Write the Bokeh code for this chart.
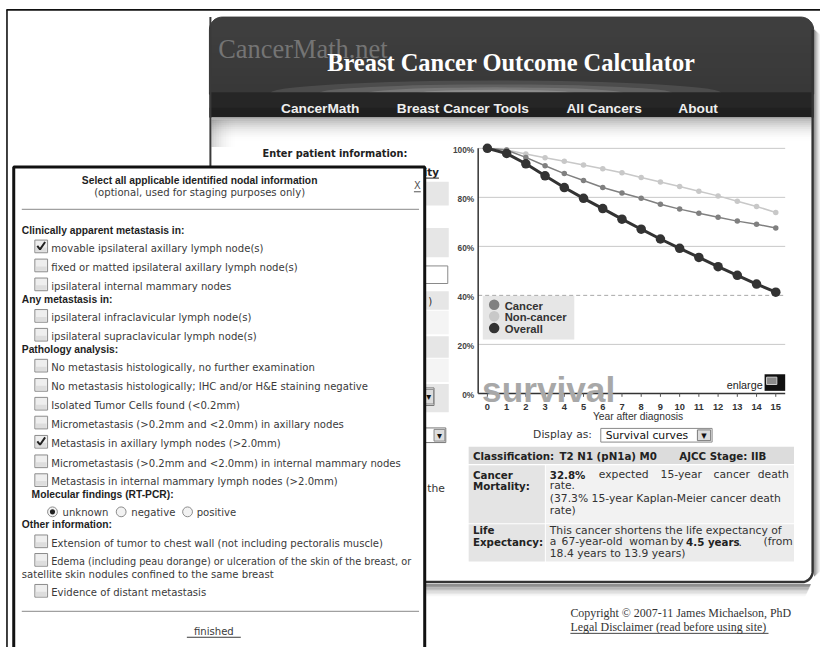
import numpy as np
from bokeh.plotting import figure
from bokeh.models import Range1d
from bokeh.core.properties import value
from bokeh.embed import file_html
from bokeh.resources import INLINE

# ---------------- data ----------------
years = list(range(16))
surv_overall = [100, 97.9, 93.7, 88.8, 84.0, 79.6, 75.4, 71.1, 67.0, 63.0, 59.2, 55.5, 51.7, 48.2, 44.6, 41.3]
surv_cancer = [100, 99.3, 96.3, 92.9, 89.7, 86.9, 84.0, 81.8, 79.6, 77.2, 75.2, 73.5, 71.9, 70.3, 69.0, 67.5]
surv_noncancer = [100, 99.3, 97.7, 96.2, 94.7, 93.2, 91.7, 90.0, 88.1, 86.3, 84.4, 82.5, 80.6, 78.4, 76.3, 73.8]
pct_ticks = [0, 20, 40, 60, 80, 100]
pct_labels = ["0%", "20%", "40%", "60%", "80%", "100%"]
year_labels = [str(y) for y in years]
legend_labels = ["Cancer", "Non-cancer", "Overall"]
series_colors = ["#808080", "#c8c8c8", "#333333"]

nav_items = ["CancerMath", "Breast Cancer Tools", "All Cancers", "About"]
clin_items = ["movable ipsilateral axillary lymph node(s)",
              "fixed or matted ipsilateral axillary lymph node(s)",
              "ipsilateral internal mammary nodes"]
clin_checked = [True, False, False]
any_items = ["ipsilateral infraclavicular lymph node(s)",
             "ipsilateral supraclavicular lymph node(s)"]
path_items = ["No metastasis histologically, no further examination",
              "No metastasis histologically; IHC and/or H&E staining negative",
              "Isolated Tumor Cells found (<0.2mm)",
              "Micrometastasis (>0.2mm and <2.0mm) in axillary nodes",
              "Metastasis in axillary lymph nodes (>2.0mm)",
              "Micrometastasis (>0.2mm and <2.0mm) in internal mammary nodes",
              "Metastasis in internal mammary lymph nodes (>2.0mm)"]
path_checked = [False, False, False, False, True, False, False]
radio_labels = ["unknown", "negative", "positive"]
other_items = ["Extension of tumor to chest wall (not including pectoralis muscle)",
               "Edema (including peau dorange) or ulceration of the skin of the breast, or",
               "Evidence of distant metastasis"]

# ---------------- figure ----------------
W, H = 820, 647
RW, RH = 836, 663          # page coordinate system of the whole picture
K = (W / RW + H / RH) / 2  # pixel scale of that system
p = figure(width=W, height=H, x_range=Range1d(0, RW), y_range=Range1d(RH, 0),
           output_backend="svg", toolbar_location=None, min_border=0,
           x_axis_location=None, y_axis_location=None, title=None)
p.xgrid.visible = False
p.ygrid.visible = False
p.outline_line_color = None
p.background_fill_color = "white"
p.border_fill_color = "white"

# chart scales (years / percent) mapped onto the chart area
X0, XS = 496.4, 19.6
Y0, YS = 402.6, 2.511
p.extra_x_ranges = {"yr": Range1d((0 - X0) / XS, (RW - X0) / XS)}
p.extra_y_ranges = {"pct": Range1d((Y0 - RH) / YS, (Y0 - 0) / YS)}
CH = dict(x_range_name="yr", y_range_name="pct")

SANS = "DejaVu Sans"
ARIAL = "Liberation Sans"
SERIF = "Liberation Serif"


def fs(size):
    return value(f"{size * K:.2f}px")


def quad(x0, y0, x1, y1, fill, line=None, lw=1, alpha=1.0):
    p.quad(left=[x0], right=[x1], top=[y0], bottom=[y1], fill_color=fill, fill_alpha=alpha,
           line_color=line, line_width=lw)


def txt(x, y, s, size, color="#333333", font=SANS, style="normal", align="left",
        baseline="middle", alpha=1.0, **kw):
    p.text(x=[x], y=[y], text=[s], text_font=value(font), text_font_size=fs(size),
           text_font_style=style, text_color=color, text_align=align, text_baseline=baseline,
           text_alpha=alpha, **kw)


def hline(x0, x1, y, color, lw=1, dash="solid", alpha=1.0):
    p.segment(x0=[x0], y0=[y], x1=[x1], y1=[y], line_color=color, line_width=lw,
              line_dash=dash, line_alpha=alpha)


def vline(x, y0, y1, color, lw=1, alpha=1.0):
    p.segment(x0=[x], y0=[y0], x1=[x], y1=[y1], line_color=color, line_width=lw, line_alpha=alpha)


# screenshot frame lines
hline(6, 836, 9.6, "#111111", 1.6)
vline(6.6, 9.6, 663, "#111111", 1.6)

# ---------------- main page panel ----------------
r = 13
xl, xr_, yt, yb = 213, 829, 17, 96
t1 = np.linspace(np.pi, 1.5 * np.pi, 12)
t2 = np.linspace(1.5 * np.pi, 2 * np.pi, 12)
hx = list(xl + r + r * np.cos(t1)) + list(xr_ - r + r * np.cos(t2)) + [xr_, xl]
hy = list(yt + r + r * np.sin(t1)) + list(yt + r + r * np.sin(t2)) + [yb, yb]
p.patch(hx, hy, fill_color="#3e3e3e", line_color="#3a3a3a", line_width=1)
for i in range(8):
    quad(214, 30 + i * 8, 828, 38 + i * 8, "#000000", alpha=0.012 * i)
for w, h, a in [(460, 26, 0.10), (360, 18, 0.12), (260, 12, 0.14), (160, 7, 0.16)]:
    p.ellipse(x=[505], y=[95], width=w, height=h, fill_color="#ffffff", fill_alpha=a, line_color=None)
quad(213, 94, 829, 120, "#262626")
quad(213, 110, 829, 120, "#1c1c1c", alpha=0.6)

txt(222, 50, "CancerMath.net", 27, color="#747474", font=SERIF, baseline="alphabetic")
txt(333, 64, "Breast Cancer Outcome Calculator", 25, color="#ffffff", font=SERIF, style="bold",
    baseline="alphabetic")
nav_x = [286, 404, 577, 691]
for s, x in zip(nav_items, nav_x):
    txt(x, 111, s, 14, color="#eeeeee", font=ARIAL, style="bold")

# panel body
quad(215, 120, 827, 596, "#ffffff")
for i in range(12):
    quad(215, 120 + i * 2, 827, 122 + i * 2, "#555555", alpha=0.45 * (1 - i / 12) ** 2)
for i in range(10):
    quad(215 + i * 2.5, 122, 217.5 + i * 2.5, 150, "#555555", alpha=0.25 * (1 - i / 10) ** 2)
vline(214, 17, 596, "#3a3a3a", 2)
rc = 11
tc = np.linspace(0, 0.5 * np.pi, 12)
bx = [828, 828] + list(828 - rc + rc * np.cos(tc)) + [214]
by = [30, 596 - rc] + list(596 - rc + rc * np.sin(tc)) + [596]
p.line(bx, by, line_color="#333333", line_width=2.5)
for i in range(12):
    hline(214, 826 - i * 0.5, 598.5 + i * 1.1, "#333333", 1.2, alpha=0.55 * (1 - i / 12) ** 1.5)
for i in range(6):
    vline(830 + i * 1.1, 30 + i, 590 - i, "#333333", 1.2, alpha=0.5 * (1 - i / 6) ** 1.5)

txt(341, 157, "Enter patient information:", 10, color="#222222", style="bold", align="center")

# form rows (mostly hidden behind the dialog)
for y0, y1, c in [(185.7, 210, "#e6e6e6"), (233, 263, "#e6e6e6"), (298, 317, "#e6e6e6"),
                  (318, 342, "#f4f4f4"), (344, 366, "#e6e6e6"), (367, 391, "#f4f4f4"),
                  (393, 422, "#e6e6e6")]:
    quad(220, y0, 457, y1, c)
quad(380, 272, 456, 290, "#ffffff", "#8a8a8a", 1)
txt(447, 176, "Mortality", 10.5, color="#222222", style="bold", align="right")
hline(380, 447, 182, "#222222", 1)
txt(436, 307.5, ")", 10.5, color="#333333")
quad(380, 397, 442, 415, "#ffffff", "#777777", 1)
quad(431.5, 398.5, 441.5, 413.5, "#dddddd", "#888888", 1)
txt(436.5, 406, "▾", 10, color="#111111", align="center")
quad(380, 438, 454, 453, "#ffffff", "#777777", 1)
quad(442, 439.5, 453, 451.5, "#dddddd", "#888888", 1)
txt(447.5, 445.5, "▾", 10, color="#111111", align="center")
txt(435, 500, "the", 11, color="#333333")

# ---------------- survival chart ----------------
xa0, xa1 = (487 - X0) / XS, (800 - X0) / XS
grid_ticks = [t for t in pct_ticks if t not in (0, 40)]
p.segment(x0=[xa0] * len(grid_ticks), y0=grid_ticks, x1=[xa1] * len(grid_ticks), y1=grid_ticks,
          line_color="#c8c8c8", line_width=1, **CH)
quad(491.7, 302.5, 585, 347.3, "#e6e6e6")
p.segment(x0=[xa0], y0=[40], x1=[xa1], y1=[40], line_color="#a8a8a8", line_width=1,
          line_dash="4 3", **CH)
p.segment(x0=[xa0], y0=[0], x1=[xa0], y1=[100], line_color="#333333", line_width=1.5, **CH)
p.segment(x0=[xa0], y0=[0], x1=[xa1], y1=[0], line_color="#333333", line_width=1.5, **CH)
p.segment(x0=years, y0=[0] * 16, x1=years, y1=[-1.4] * 16, line_color="#555555", line_width=1, **CH)
p.text(x=years, y=[0] * 16, text=year_labels, text_font=value(ARIAL), text_font_size=fs(9.5),
       text_font_style="bold", text_color="#333333", text_align="center", text_baseline="middle",
       y_offset=13.5, **CH)
p.text(x=[xa0] * 6, y=pct_ticks, text=pct_labels, text_font=value(ARIAL), text_font_size=fs(8.5),
       text_font_style="bold", text_color="#444444", text_align="right", text_baseline="middle",
       x_offset=-4, y_offset=2, **CH)
txt(650, 426, "Year after diagnosis", 10.5, color="#333333", font=ARIAL, align="center")

txt(491, 398.5, "survival", 36, color="#a8a8a8", font=ARIAL, style="bold", baseline="alphabetic")
txt(777, 394, "enlarge", 11, color="#222222", font=ARIAL, align="right")
quad(779, 383, 800, 400, "#111111")
quad(781, 386, 791.5, 393.5, "#8a8a8a", "#cccccc", 1)

p.line(years, surv_noncancer, line_color=series_colors[1], line_width=1.5, **CH)
p.scatter(years, surv_noncancer, size=5.5, fill_color=series_colors[1], line_color=None, **CH)
p.line(years, surv_cancer, line_color=series_colors[0], line_width=1.5, **CH)
p.scatter(years, surv_cancer, size=5.5, fill_color=series_colors[0], line_color=None, **CH)
p.line(years, surv_overall, line_color=series_colors[2], line_width=3, **CH)
p.scatter(years, surv_overall, size=9.5, fill_color=series_colors[2], line_color=None, **CH)

leg_y = [311.7, 323.5, 335.7]
p.scatter([503.3] * 3, leg_y, size=10.5, fill_color=series_colors, line_color=None)
p.text(x=[514] * 3, y=leg_y, text=legend_labels, text_font=value(ARIAL), text_font_size=fs(11.5),
       text_font_style="bold", text_color="#333333", text_baseline="middle", y_offset=1)

# display as
txt(543, 445, "Display as:", 11, color="#333333")
quad(612, 438.5, 725.5, 452.5, "#ffffff", "#8a8a8a", 1)
txt(617, 445.5, "Survival curves", 11, color="#111111")
quad(710.5, 440, 724, 451, "#dcdcdc", "#7a7a7a", 1)
txt(717.3, 446, "▾", 11, color="#111111", align="center")

# result table
quad(477.3, 457.3, 809, 475, "#dcdcdc")
quad(477.3, 476.3, 555, 535.7, "#e4e4e4")
quad(556, 476.3, 809, 535.7, "#f2f2f2")
quad(477.3, 536.7, 555, 575, "#e4e4e4")
quad(556, 536.7, 809, 575, "#ebebeb")
B = dict(color="#222222", style="bold")
BS = 10.5
RS = 11.0
txt(481.7, 466.5, "Classification:", BS, **B)
txt(570, 466.5, "T2 N1 (pN1a) M0", BS, **B)
txt(692, 466.5, "AJCC Stage: IIB", BS, **B)
txt(481.7, 486, "Cancer", BS, **B)
txt(481.7, 497.5, "Mortality:", BS, **B)
txt(481.7, 542.7, "Life", BS, **B)
txt(481.7, 554.7, "Expectancy:", BS, **B)
R = dict(color="#333333")
txt(560, 486, "32.8%", BS, **B)
for s, x in [("expected", 610), ("15-year", 673), ("cancer", 727), ("death", 772)]:
    txt(x, 486, s, RS, **R)
txt(560, 497.5, "rate.", RS, **R)
txt(560, 510.7, "(37.3% 15-year Kaplan-Meier cancer death", RS, **R)
txt(560, 522.7, "rate)", RS, **R)
txt(560, 542.7, "This cancer shortens the life expectancy of", RS, **R)
for s, x in [("a", 560), ("67-year-old", 572), ("woman", 641), ("by", 683)]:
    txt(x, 554.7, s, RS, **R)
txt(699, 554.7, "4.5 years", BS, **B)
txt(752.5, 554.7, ".", RS, **R)
txt(778, 554.7, "(from", RS, **R)
txt(560, 566.3, "18.4 years to 13.9 years)", RS, **R)

# footer
txt(581, 628, "Copyright © 2007-11 James Michaelson, PhD", 12.2, color="#333333", font=SERIF)
txt(581, 642, "Legal Disclaimer (read before using site)", 12.2, color="#333333", font=SERIF)
hline(581, 783, 648.5, "#444444", 1)

# ---------------- dialog ----------------
quad(13.5, 170.5, 432.5, 675, "#ffffff", "#111111", 3)


def checkbox(cx, cy, checked):
    quad(cx - 6.5, cy - 6.5, cx + 6.5, cy + 6.5, "#eeeeee", "#8c8c8c", 1)
    quad(cx - 5.5, cy + 1, cx + 5.5, cy + 5.5, "#dddddd")
    if checked:
        p.line([cx - 4, cx - 1.2, cx + 4], [cy - 0.5, cy + 3, cy - 4.5], line_color="#222222", line_width=2)


def radio(cx, cy, on):
    p.circle(x=[cx], y=[cy], radius=5, fill_color="#f2f2f2", line_color="#8c8c8c", line_width=1)
    if on:
        p.circle(x=[cx], y=[cy], radius=2.6, fill_color="#222222", line_color=None)


HD = dict(color="#1e1e1e", font=ARIAL, style="bold")
IT = dict(color="#3a3a3a", font=SANS)
ISZ = 10.3
HSZ = 10.5
txt(203, 184.3, "Select all applicable identified nodal information", HSZ, align="center", **HD)
txt(203, 196.5, "(optional, used for staging purposes only)", ISZ, align="center", **IT)
txt(425, 190, "X", 10, color="#555555", font=SANS, align="center")
hline(421.5, 428.5, 196, "#555555", 1)
hline(21.7, 426.7, 214, "#a0a0a0", 1.2)

txt(21.7, 236, "Clinically apparent metastasis in:", HSZ, **HD)
for s, y, c in zip(clin_items, [253.8, 273.3, 292.7], clin_checked):
    checkbox(41.5, y - 1.8, c)
    txt(51.7, y, s, ISZ, **IT)
txt(21.7, 306.7, "Any metastasis in:", HSZ, **HD)
for s, y in zip(any_items, [325, 344.3]):
    checkbox(41.5, y - 1.8, False)
    txt(51.7, y, s, ISZ, **IT)
txt(21.7, 357.7, "Pathology analysis:", HSZ, **HD)
for s, y, c in zip(path_items, [376, 395.7, 415, 434.3, 454, 474, 493.3], path_checked):
    checkbox(41.5, y - 1.8, c)
    txt(51.7, y, s, ISZ, **IT)
txt(31.7, 506.7, "Molecular findings (RT-PCR):", HSZ, **HD)
for s, cx, tx, on in zip(radio_labels, [53, 123, 190.7], [63.3, 133.3, 200], [True, False, False]):
    radio(cx, 524, on)
    txt(tx, 525, s, ISZ, **IT)
txt(21.7, 536.7, "Other information:", HSZ, **HD)
for s, y in zip(other_items, [556, 575, 606.7]):
    checkbox(41.5, y - 1.8, False)
    txt(51.7, y, s, 9.95 if s.startswith("Edema") else ISZ, **IT)
txt(21.7, 588.3, "satellite skin nodules confined to the same breast", ISZ, **IT)
hline(21.7, 426.7, 626, "#a0a0a0", 1.2)
txt(217.5, 646.7, "finished", ISZ, align="center", **IT)
hline(190, 245, 652.5, "#3a3a3a", 1)

open("out.html", "w").write(file_html(p, INLINE))
